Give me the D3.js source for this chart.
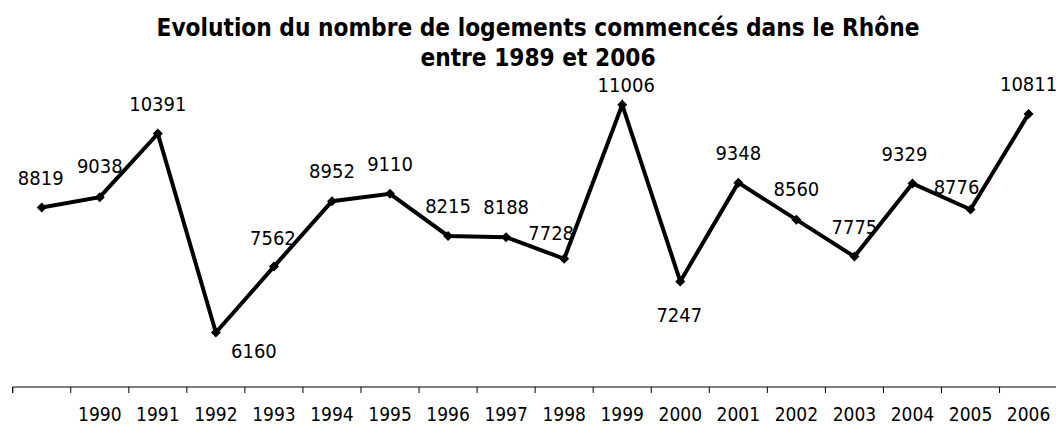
<!doctype html>
<html>
<head>
    <meta charset="utf-8">
    <title>Logements commencés dans le Rhône</title>
    <script src="https://cdn.jsdelivr.net/npm/d3@7"></script>
    <style>
        body { margin: 0; background: #fff; }
        svg text { font-family: "DejaVu Sans Condensed", "DejaVu Sans", sans-serif; font-stretch: condensed; fill: #000; }
    </style>
</head>
<body>
<svg id="chart" width="1056" height="426"></svg>
<script>
// data
var years = ['1989','1990','1991','1992','1993','1994','1995','1996','1997','1998',
             '1999','2000','2001','2002','2003','2004','2005','2006'];
var logements = [8819, 9038, 10391, 6160, 7562, 8952, 9110, 8215, 8188, 7728,
                 11006, 7247, 9348, 8560, 7775, 9329, 8776, 10811];
// the first category has no label on the axis in the original
var tickLabels = ['', '1990','1991','1992','1993','1994','1995','1996','1997','1998',
                  '1999','2000','2001','2002','2003','2004','2005','2006'];
var yDomain = [5000, 12000];
var titleLines = ['Evolution du nombre de logements commencés dans le Rhône', 'entre 1989 et 2006'];

// where each value label sits relative to its point (label centre, px)
var labelOffsets = [[-1,-30],[0,-31],[0,-30],[38,18],[-1,-29],[0,-30],[0,-30],[0,-30],[0,-30],[-13,-26],
                    [4,-20],[-1,33],[0,-30],[0,-31],[0,-30],[-8,-30],[-14,-23],[0,-30]];

var svg = d3.select('#chart');
var W = 1056;

var x = d3.scaleBand()
    .domain(years)
    .range([12.7, 12.7 + 18 * 58.05]);

var y = d3.scaleLinear()
    .domain(yDomain)
    .range([387, 58]);

// title
svg.append('text')
    .attr('x', 538)
    .attr('text-anchor', 'middle')
    .style('font-weight', 'bold')
    .style('font-size', '24.2px')
    .selectAll('tspan')
    .data(titleLines)
    .enter()
    .append('tspan')
    .attr('x', 538)
    .attr('y', function(d, i){ return 36 + i * 30; })
    .text(function(d){ return d; });

// category axis
var axis = svg.append('g')
    .attr('transform', 'translate(0,387)')
    .call(d3.axisBottom(x).tickSize(6).tickFormat(function(d, i){ return tickLabels[i]; }));

axis.select('.domain')
    .attr('d', 'M' + x.range()[0] + ',6V0H' + W)
    .attr('stroke', '#000')
    .attr('stroke-width', 1);

// ticks sit on the band edges, labels in the middle
axis.selectAll('.tick line')
    .attr('x1', -x.bandwidth() / 2)
    .attr('x2', -x.bandwidth() / 2)
    .attr('stroke', '#000');

axis.selectAll('.tick text')
    .attr('y', 34)
    .attr('dy', 0)
    .style('font-size', '19px');

var cx = function(d, i){ return x(years[i]) + x.bandwidth() / 2; };
var cy = function(d){ return y(d); };

var line = d3.line()
    .x(cx)
    .y(cy);

svg.append('path')
    .datum(logements)
    .attr('d', line)
    .attr('fill', 'none')
    .attr('stroke', '#000')
    .attr('stroke-width', 4)
    .attr('stroke-linejoin', 'miter');

// diamond markers
svg.selectAll('.marker')
    .data(logements)
    .enter()
    .append('path')
    .attr('class', 'marker')
    .attr('transform', function(d, i){ return 'translate(' + cx(d, i) + ',' + cy(d) + ')'; })
    .attr('d', 'M0,-5L5,0L0,5L-5,0Z')
    .attr('fill', '#000');

// value labels
svg.selectAll('.val')
    .data(logements)
    .enter()
    .append('text')
    .attr('class', 'val')
    .attr('x', function(d, i){ return cx(d, i) + labelOffsets[i][0]; })
    .attr('y', function(d, i){ return cy(d) + labelOffsets[i][1]; })
    .attr('dy', '0.36em')
    .attr('text-anchor', 'middle')
    .style('font-size', '20px')
    .text(function(d){ return d; });
</script>
</body>
</html>
